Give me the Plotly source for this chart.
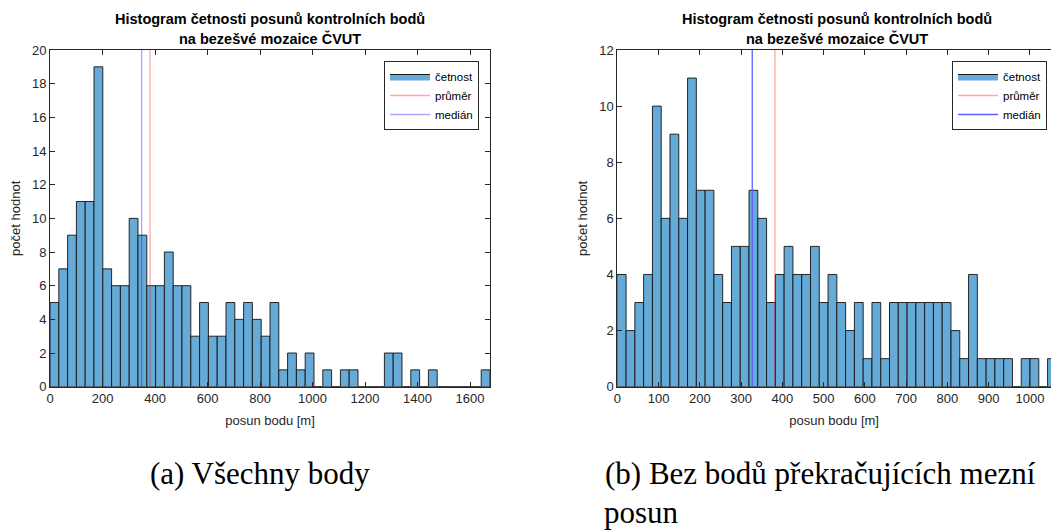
import plotly.graph_objects as go

# ---------------- data ----------------
title_lines = ["Histogram četnosti posunů kontrolních bodů", "na bezešvé mozaice ČVUT"]
x_label = "posun bodu [m]"
y_label = "počet hodnot"
legend_names = ["četnost", "průměr", "medián"]

# (a) all points: 50 bins between 0 and max
a_bin_min = 0.0
a_bin_max = 1676.0
a_counts = [5, 7, 9, 11, 11, 19, 7, 6, 6, 10,
            9, 6, 6, 8, 6, 6, 3, 5, 3, 3,
            5, 4, 5, 4, 3, 5, 1, 2, 1, 2,
            0, 1, 0, 1, 1, 0, 0, 0, 2, 2,
            0, 1, 0, 1, 0, 0, 0, 0, 0, 1]
a_mean = 381.0
a_median = 349.0
a_xticks = [0, 200, 400, 600, 800, 1000, 1200, 1400, 1600]
a_yticks = [0, 2, 4, 6, 8, 10, 12, 14, 16, 18, 20]
a_yrange = [0, 20]

# (b) without points exceeding the limit
b_bin_min = 0.0
b_bin_max = 1064.0
b_counts = [4, 2, 3, 4, 10, 6, 9, 6, 11, 7,
            7, 4, 3, 5, 5, 7, 6, 3, 4, 5,
            4, 4, 5, 3, 4, 3, 2, 3, 1, 3,
            1, 3, 3, 3, 3, 3, 3, 3, 2, 1,
            4, 1, 1, 1, 1, 0, 1, 1, 0, 1]
b_mean = 382.0
b_median = 327.0
b_xticks = [0, 100, 200, 300, 400, 500, 600, 700, 800, 900, 1000]
b_yticks = [0, 2, 4, 6, 8, 10, 12]
b_yrange = [0, 12]
b_xview = [0, 1051]

caption_a = ["(a) Všechny body"]
caption_b = ["(b) Bez bodů překračujících mezní", "posun"]

# ---------------- styling ----------------
W, H = 1051, 531
BAR_FILL = "rgb(102,170,215)"
BAR_EDGE = "rgba(20,20,20,0.9)"
AX_COL = "rgb(38,38,38)"
FONT = "Liberation Sans, Arial, sans-serif"
SERIF = "Liberation Serif, DejaVu Serif, serif"


def px_x(p):
    return p / W


def px_y(p):
    return 1 - p / H


def bins(lo, hi, n):
    w = (hi - lo) / n
    centers = [lo + w * (i + 0.5) for i in range(n)]
    return centers, w


fig = go.Figure()


def add_panel(xa, ya, leg, lo, hi, counts, mean, median, yr, med_col, mean_col):
    c, w = bins(lo, hi, len(counts))
    fig.add_trace(go.Bar(x=c, y=counts, width=w, name=legend_names[0], showlegend=False,
                         marker=dict(color=BAR_FILL, line=dict(color=BAR_EDGE, width=1)),
                         xaxis=xa, yaxis=ya, legend=leg))
    # legend entry for the bars (filled rectangle icon)
    fig.add_trace(go.Scatter(x=[None], y=[None], mode="lines", fill="toself",
                             fillcolor=BAR_FILL, name=legend_names[0],
                             line=dict(color="rgb(30,30,30)", width=1),
                             xaxis=xa, yaxis=ya, legend=leg))
    fig.add_trace(go.Scatter(x=[mean, mean], y=yr, mode="lines", name=legend_names[1],
                             line=dict(color=mean_col, width=1.3),
                             xaxis=xa, yaxis=ya, legend=leg))
    fig.add_trace(go.Scatter(x=[median, median], y=yr, mode="lines", name=legend_names[2],
                             line=dict(color=med_col, width=1.3),
                             xaxis=xa, yaxis=ya, legend=leg))


add_panel("x", "y", "legend", a_bin_min, a_bin_max, a_counts, a_mean, a_median, a_yrange,
          "rgba(0,0,255,0.35)", "rgba(255,0,0,0.35)")
add_panel("x2", "y2", "legend2", b_bin_min, b_bin_max, b_counts, b_mean, b_median, b_yrange,
          "rgb(95,95,255)", "rgba(255,0,0,0.35)")

tickfont = dict(family=FONT, size=13, color=AX_COL)
titlefont = dict(family=FONT, size=13, color=AX_COL)

common_x = dict(showline=True, linecolor=AX_COL, linewidth=1, ticks="inside", ticklen=5,
                tickcolor=AX_COL, tickfont=tickfont, showgrid=False, zeroline=False,
                mirror="ticks", fixedrange=True, automargin=False)
common_y = dict(showline=True, linecolor=AX_COL, linewidth=1, ticks="inside", ticklen=5,
                tickcolor=AX_COL, tickfont=tickfont, showgrid=False, zeroline=False,
                fixedrange=True, automargin=False)

ybot = px_y(386.7)
ytop = px_y(50)

legend_common = dict(bgcolor="white", bordercolor=AX_COL, borderwidth=1,
                     font=dict(family=FONT, size=11.5, color="black"),
                     xref="paper", yref="paper", xanchor="right", yanchor="top",
                     itemwidth=40, tracegroupgap=0, traceorder="normal")

fig.update_layout(
    width=W, height=H,
    margin=dict(l=0, r=0, t=0, b=0, pad=0, autoexpand=False),
    paper_bgcolor="white", plot_bgcolor="white",
    bargap=0,
    showlegend=True,
    xaxis=dict(common_x, domain=[px_x(50), px_x(490)], range=[a_bin_min, a_bin_max],
               tickvals=a_xticks, anchor="y",
               title=dict(text=x_label, font=titlefont, standoff=10)),
    yaxis=dict(common_y, domain=[ybot, ytop], range=a_yrange, tickvals=a_yticks,
               mirror="ticks", anchor="x",
               title=dict(text=y_label, font=titlefont, standoff=8)),
    xaxis2=dict(common_x, domain=[px_x(617.3), 1.0], range=b_xview,
                tickvals=b_xticks, anchor="y2",
                title=dict(text=x_label, font=titlefont, standoff=10)),
    yaxis2=dict(common_y, domain=[ybot, ytop], range=b_yrange, tickvals=b_yticks,
                mirror=False, anchor="x2",
                title=dict(text=y_label, font=titlefont, standoff=8)),
    legend=dict(legend_common, x=px_x(479), y=px_y(61)),
    legend2=dict(legend_common, x=px_x(1047), y=px_y(61)),
)

# chart titles (two bold lines each)
for cx in (270, 837):
    for i, line in enumerate(title_lines):
        fig.add_annotation(text="<b>" + line + "</b>", x=px_x(cx), y=px_y(19 + 20 * i),
                           xref="paper", yref="paper", xanchor="center", yanchor="middle",
                           showarrow=False, font=dict(family=FONT, size=14.5, color="black"))

# captions
fig.add_annotation(text=caption_a[0], x=px_x(148), y=px_y(473),
                   xref="paper", yref="paper", xanchor="left", yanchor="middle",
                   showarrow=False, align="left",
                   font=dict(family=SERIF, size=31, color="black"))
fig.add_annotation(text=caption_b[0], x=px_x(603), y=px_y(473),
                   xref="paper", yref="paper", xanchor="left", yanchor="middle",
                   showarrow=False, align="left",
                   font=dict(family=SERIF, size=31, color="black"))
fig.add_annotation(text=caption_b[1], x=px_x(603), y=0,
                   xref="paper", yref="paper", xanchor="left", yanchor="bottom",
                   showarrow=False, align="left", borderpad=0,
                   font=dict(family=SERIF, size=31, color="black"))

fig.write_html("out.html",
               config={"displayModeBar": False, "staticPlot": True},
               post_script="document.body.style.margin='0';document.body.style.overflow='hidden';")
